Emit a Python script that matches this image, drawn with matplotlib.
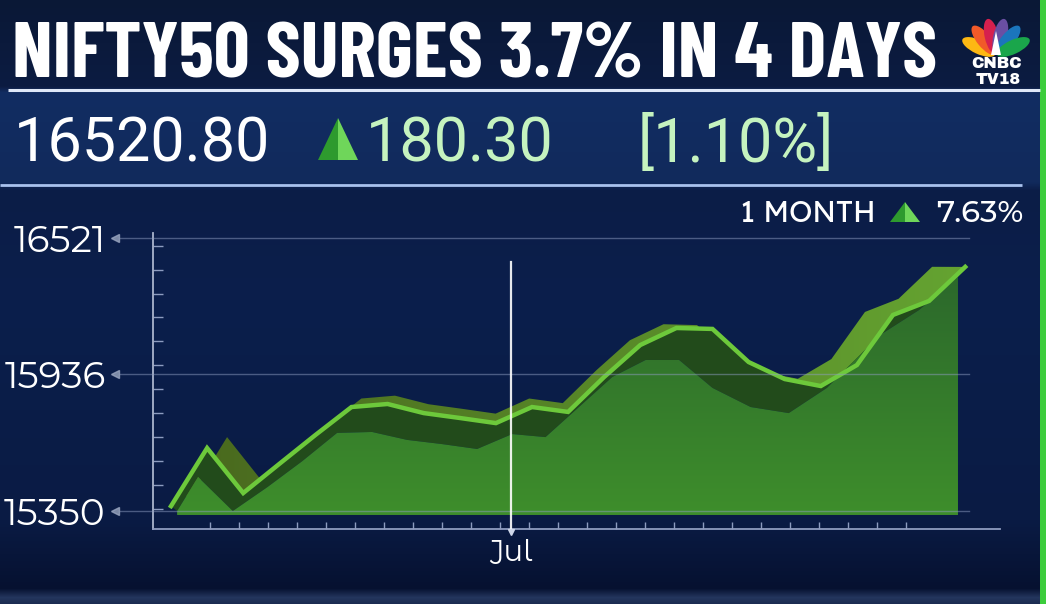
import matplotlib
matplotlib.use("Agg")
import matplotlib.pyplot as plt
import numpy as np
from matplotlib.colors import to_rgb
from matplotlib.patches import Polygon, Ellipse, Rectangle

# ---- data ----
days = np.arange(23)
close = [15371, 15620, 15427, 15552, 15676, 15796, 15809, 15770, 15749, 15727,
         15796, 15775, 15925, 16062, 16135, 16131, 15989, 15916, 15886, 15976,
         16191, 16251, 16397]
# top edge of the lighter front face of the 3D area
front = [15350, 15496, 15350, 15453, 15564, 15685, 15689, 15655, 15637, 15616,
         15680, 15667, 15796, 15925, 15998, 15998, 15878, 15796, 15770, 15878,
         16105, 16212, 16354]
ytick_vals = [15350, 15936, 16521]
ytick_labels = ["15350", "15936", "16521"]
jul_pos = 9.42

title = "NIFTY50 SURGES 3.7% IN 4 DAYS"
last_price = "16520.80"
change = "180.30"
change_pct = "[1.10%]"
period = "1 MONTH"
period_chg = "7.63%"

W, H = 1046, 604
NAVY = "#0b1e4b"
GRID = "#8d9cc0"
LINE = "#6dc93b"
NUMFONT = "Montserrat Alternates"
LABFONT = ["Lexend", "Outfit", "Urbanist", "Lato"]


def px_axes(fig, x0, y0, x1, y1):
    # axes placed by pixel box (top-left origin)
    return fig.add_axes([x0 / W, 1 - y1 / H, (x1 - x0) / W, (y1 - y0) / H])


def gradient_fill(ax, poly, c_top, c_bot, extent, horizontal=False, z=2):
    patch = Polygon(poly, closed=True, facecolor="none", edgecolor="none", zorder=z)
    ax.add_patch(patch)
    t = np.linspace(0, 1, 256)
    a, b = np.array(to_rgb(c_top)), np.array(to_rgb(c_bot))
    grad = a[None, :] * (1 - t[:, None]) + b[None, :] * t[:, None]
    img = grad[None, :, :] if horizontal else grad[:, None, :]
    im = ax.imshow(img, extent=extent, origin="upper", aspect="auto",
                   interpolation="bilinear", zorder=z)
    im.set_clip_path(patch)


def up_triangle(ax, x, y, w, h):
    ax.add_patch(Polygon([(x, y), (x + w / 2, y - h), (x + w / 2, y)], closed=True,
                         facecolor="#2e9a2e", edgecolor="none"))
    ax.add_patch(Polygon([(x + w / 2, y - h), (x + w, y), (x + w / 2, y)], closed=True,
                         facecolor="#6fd65a", edgecolor="none"))


fig = plt.figure(figsize=(W / 100, H / 100), dpi=100)
fig.patch.set_facecolor(NAVY)

# ---- background layer in pixel coords ----
bg = fig.add_axes([0, 0, 1, 1])
bg.set_xlim(0, W)
bg.set_ylim(H, 0)
bg.axis("off")
stops = [(0, "#0a1836"), (86, "#0c1c42"), (92, "#122d62"), (182, "#112a5c"),
         (190, "#0c1d47"), (300, "#0b1f4c"), (520, "#0a1b44"), (588, "#061130"),
         (597, "#24365e"), (604, "#1a2a50")]
ys = np.arange(H)
cols = np.array([to_rgb(c) for _, c in stops])
sy = [s for s, _ in stops]
bgimg = np.stack([np.interp(ys, sy, cols[:, k]) for k in range(3)], axis=1)[:, None, :]
bg.imshow(bgimg, extent=(0, W, H, 0), aspect="auto", interpolation="bilinear")

# header box lines
bg.plot([8, 1040], [90, 90], color="#dfe8f8", lw=2.2, solid_capstyle="butt")
bg.plot([0, 1022], [185, 185], color="#a9c2ee", lw=2.0, solid_capstyle="butt")
# green edge strip
bg.add_patch(Rectangle((1040, 0), 6, H, facecolor="#3ccd3c", edgecolor="none"))

# title
bg.text(12, 78, title, color="white", fontsize=57, family="Barlow Condensed",
        weight="bold", va="baseline", ha="left")

# price row
bg.text(14, 162, last_price, color="white", fontsize=44, family="Roboto",
        weight="normal", va="baseline", ha="left")
up_triangle(bg, 318, 160, 40, 42)
bg.text(366, 162, change, color="#c5f3bf", fontsize=44, family="Roboto",
        weight="normal", va="baseline", ha="left")
bg.text(638, 162, change_pct, color="#c5f3bf", fontsize=44, family="Roboto",
        weight="normal", va="baseline", ha="left")

# period change
bg.text(876, 222, period, color="white", fontsize=21.5, family=LABFONT,
        weight="medium", va="baseline", ha="right")
up_triangle(bg, 890, 222, 30, 20)
bg.text(1023, 222, period_chg, color="white", fontsize=22, family=NUMFONT,
        weight="medium", va="baseline", ha="right")

# CNBC-TV18 logo
feather_cols = ["#fdb813", "#f15a29", "#d6204e", "#6a4fa3", "#1b75bc", "#1aa64b"]
bx, by = 996, 55
for ang, c in zip(np.linspace(155, 25, 6), feather_cols):
    r = np.deg2rad(ang)
    bg.add_patch(Ellipse((bx + 19 * np.cos(r), by - 19 * np.sin(r)), 36, 14,
                         angle=-ang, facecolor=c, edgecolor="none"))
bg.add_patch(Polygon([(991, 55), (996, 31), (1001, 55)], closed=True,
                     facecolor="white", edgecolor="none"))
bg.text(996.5, 68, "CNBC", color="white", fontsize=11.5, family="Archivo Black",
        ha="center", va="baseline")
bg.text(998, 83.5, "TV18", color="white", fontsize=11.5, family="Archivo Black",
        ha="center", va="baseline")

# ---- chart axes: pixel box chosen so data lands where the reference has it ----
ax = px_axes(fig, 153, 233, 1000, 529)
ax.set_facecolor("none")
x0, x1 = -0.4986, 22.964
y0, y1 = 15272.8, 16542.5

x = days.astype(float)
v = np.array(close, dtype=float)
vf = np.array(front, dtype=float)
# front face sits a little to the left of the line (3D perspective)
shift = np.interp(x, [0, 1, 5, 10, 16, 19, 20, 22], [-0.17, 0.25, 0.4, 0.55, 1.0, 0.83, 0.36, 0.2])
xf = x - shift
base = 15333

# back edge of the ribbon: perspective shrink of the front line
xb = 8.9 + (x - 8.9) * 0.93
vb = 16405 + (v - 16405) * 0.94

ribbon = np.vstack([np.column_stack([x, v]), np.column_stack([xb, vb])[::-1]])
gradient_fill(ax, ribbon, "#48661d", "#66a632", (x0, x1, y1, y0), horizontal=True, z=2)

band = np.vstack([np.column_stack([x, v]), np.column_stack([xf, vf])[::-1]])
ax.add_patch(Polygon(band, closed=True, facecolor="#224b1b", edgecolor="none", zorder=3))

face = np.vstack([np.column_stack([xf, vf]), [[xf[-1], base], [xf[0], base]]])
gradient_fill(ax, face, "#3e8e2c", "#2a652b", (x0, x1, 16450, base), z=4)

ax.plot(x, v, color=LINE, lw=3.2, solid_joinstyle="miter", zorder=5)

# grid lines with arrow heads next to the labels
for yv in ytick_vals:
    ax.plot([-1.41, 22.1], [yv, yv], color=GRID, lw=1.0, alpha=0.5, zorder=6, clip_on=False)
    ax.plot([-1.55], [yv], marker="<", ms=6, color="#9aa6c0", alpha=0.8, zorder=6, clip_on=False)

# Jul marker line
ax.plot([jul_pos, jul_pos], [16418, 15277], color="white", lw=1.6, alpha=0.9, zorder=7)
ax.plot([jul_pos], [15262], marker="v", ms=5, color="#d0d8ea", zorder=7, clip_on=False)

ax.set_xlim(x0, x1)
ax.set_ylim(y0, y1)

for s in ["top", "right"]:
    ax.spines[s].set_visible(False)
ax.spines["left"].set_color("#aab4cc")
ax.spines["left"].set_linewidth(1.3)
ax.spines["bottom"].set_color("#8f9cc0")
ax.spines["bottom"].set_linewidth(1.3)

ax.set_yticks(ytick_vals, ytick_labels)
ax.set_yticks(np.linspace(15359, 16488, 12), minor=True)
ax.tick_params(axis="y", which="major", length=0, pad=34, labelsize=27,
               labelcolor="white", labelfontfamily=NUMFONT)
ax.tick_params(axis="y", which="minor", direction="in", length=7, width=1, color=GRID)

ax.set_xticks([jul_pos], ["Jul"])
ax.set_xticks(np.arange(1.08, 20.6, 0.803), minor=True)
ax.tick_params(axis="x", which="major", length=0, pad=7, labelsize=21,
               labelcolor="white", labelfontfamily=NUMFONT)
ax.tick_params(axis="x", which="minor", direction="in", length=5, width=1, color=GRID)

fig.savefig("out.png", dpi=100, facecolor=NAVY)
